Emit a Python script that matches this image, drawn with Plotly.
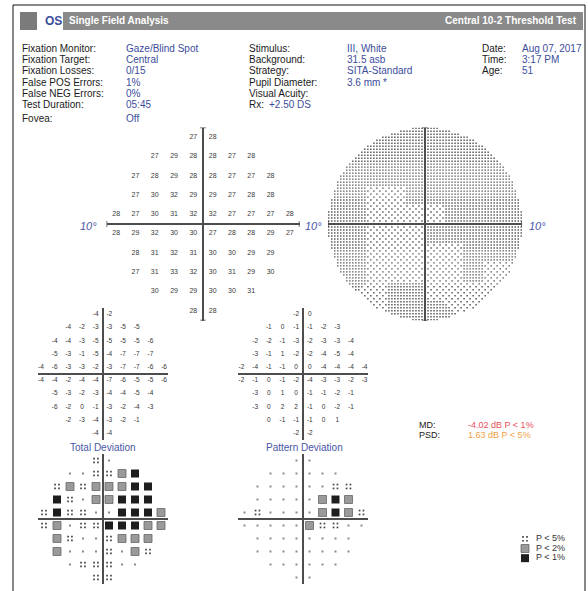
import numpy as np
import plotly.graph_objects as go

W, H = 588, 591
FONT = "Liberation Sans, Arial, sans-serif"
BLUE = "#3c4c9c"
TITLE_BLUE = "#4a55a8"

# ---------------- data ----------------
# 10-2 test pattern: rows (degrees) and half-width of each row
row_y = [9, 7, 5, 3, 1, -1, -3, -5, -7, -9]
row_half = [1, 5, 7, 7, 9, 9, 7, 7, 5, 1]

threshold_rows = [
    [27, 28],
    [27, 29, 28, 28, 27, 28],
    [27, 28, 29, 28, 28, 27, 27, 28],
    [27, 30, 32, 29, 29, 27, 28, 28],
    [28, 27, 30, 31, 32, 32, 27, 27, 27, 28],
    [28, 29, 32, 30, 30, 27, 28, 28, 29, 27],
    [28, 31, 32, 31, 30, 30, 29, 29],
    [27, 31, 33, 32, 30, 31, 29, 30],
    [30, 29, 29, 30, 30, 31],
    [28, 28],
]
total_dev_rows = [
    [-4, -2],
    [-4, -2, -3, -3, -5, -5],
    [-4, -4, -3, -5, -5, -5, -5, -6],
    [-5, -3, -1, -5, -4, -7, -7, -7],
    [-4, -6, -3, -3, -2, -3, -7, -7, -6, -6],
    [-4, -4, -2, -4, -4, -7, -6, -5, -5, -6],
    [-5, -3, -2, -3, -4, -4, -5, -4],
    [-6, -2, 0, -1, -3, -2, -4, -3],
    [-2, -3, -4, -3, -2, -1],
    [-4, -4],
]
pattern_dev_rows = [
    [-2, 0],
    [-1, 0, -1, -1, -2, -3],
    [-2, -2, -1, -3, -2, -3, -3, -4],
    [-3, -1, 1, -2, -2, -4, -5, -4],
    [-2, -4, -1, -1, 0, 0, -4, -4, -4, -4],
    [-2, -1, 0, -1, -2, -4, -3, -3, -2, -3],
    [-3, 0, 1, 0, -1, -1, -2, -1],
    [-3, 0, 2, 2, -1, 0, -2, -1],
    [0, -1, -1, -1, 0, 1],
    [-2, -2],
]
# probability codes: n = normal, 5 = P<5%, 2 = P<2%, 1 = P<1%
total_prob_rows = [
    ["5", "n"],
    ["n", "n", "5", "5", "2", "1"],
    ["5", "2", "5", "2", "2", "2", "1", "1"],
    ["1", "5", "n", "2", "2", "1", "1", "1"],
    ["5", "1", "5", "5", "n", "n", "1", "1", "1", "2"],
    ["5", "2", "n", "5", "5", "1", "1", "1", "2", "2"],
    ["2", "5", "n", "n", "5", "2", "2", "2"],
    ["2", "n", "n", "n", "5", "n", "2", "5"],
    ["n", "5", "5", "5", "n", "n"],
    ["5", "5"],
]
pattern_prob_rows = [
    ["n", "n"],
    ["n", "n", "n", "n", "n", "n"],
    ["n", "n", "n", "n", "n", "n", "5", "5"],
    ["n", "n", "n", "n", "n", "2", "1", "2"],
    ["n", "5", "n", "n", "n", "n", "2", "1", "2", "5"],
    ["n", "n", "n", "n", "n", "2", "5", "5", "n", "n"],
    ["n", "n", "n", "n", "n", "n", "n", "n"],
    ["n", "n", "n", "n", "n", "n", "n", "n"],
    ["n", "n", "n", "n", "n", "n"],
    ["n", "n"],
]

info_labels_1 = ["Fixation Monitor:", "Fixation Target:", "Fixation Losses:", "False POS Errors:",
                 "False NEG Errors:", "Test Duration:", "Fovea:"]
info_values_1 = ["Gaze/Blind Spot", "Central", "0/15", "1%", "0%", "05:45", "Off"]
info_labels_2 = ["Stimulus:", "Background:", "Strategy:", "Pupil Diameter:", "Visual Acuity:", "Rx:"]
info_values_2 = ["III, White", "31.5 asb", "SITA-Standard", "3.6 mm *", "", ""]
rx_value = "+2.50 DS"
info_labels_3 = ["Date:", "Time:", "Age:"]
info_values_3 = ["Aug 07, 2017", "3:17 PM", "51"]

global_labels = ["MD:", "PSD:"]
global_values = ["-4.02 dB P < 1%", "1.63 dB P < 5%"]
global_colors = ["#e8505b", "#f0a045"]

legend_codes = ["5", "2", "1"]
legend_labels = ["P < 5%", "P < 2%", "P < 1%"]

# ---------------- helpers ----------------
def flatten(rows):
    xs, ys, vs = [], [], []
    for yv, hw, r in zip(row_y, row_half, rows):
        for k, v in enumerate(r):
            xs.append(-hw + 2 * k)
            ys.append(yv)
            vs.append(v)
    return xs, ys, vs

def px_x(x):
    return x / W

def px_y(y):
    return 1 - y / H

def dom_x(c, half):
    return [(c - half) / W, (c + half) / W]

def dom_y(c, half):
    return [1 - (c + half) / H, 1 - (c - half) / H]

def axis(dom, rng, zl=True):
    return dict(domain=dom, range=rng, showgrid=False, showticklabels=False, ticks="",
                zeroline=zl, zerolinecolor="#4d4d4d", zerolinewidth=1.5, showline=False,
                fixedrange=True)

fig = go.Figure()

# ---------------- threshold numbers ----------------
tx, ty, tv = flatten(threshold_rows)
fig.add_trace(go.Scatter(x=tx, y=ty, mode="text", text=[str(v) for v in tv],
                         textfont=dict(size=7, color="#3a3a3a", family=FONT),
                         xaxis="x", yaxis="y", hoverinfo="skip"))

# ---------------- greyscale (texture derived from thresholds) ----------------
tx_a, ty_a, tv_a = np.array(tx, float), np.array(ty, float), np.array(tv, float)
step = 0.31
idx = np.arange(-32, 33)
gi, gj = np.meshgrid(idx, idx)
gx, gy = gi * step, gj * step
inside = (gx ** 2 + gy ** 2) <= 10.0 ** 2
d = (gx[..., None] - tx_a) ** 2 + (gy[..., None] - ty_a) ** 2
val = tv_a[np.argmin(d, axis=-1)]
light = val >= 30
keep = inside & (~light | (((gi + gj) % 2) == 0))
fig.add_trace(go.Scatter(x=gx[keep], y=gy[keep], mode="markers",
                         marker=dict(symbol="square", size=1.4, color="#505050", line=dict(width=0)),
                         xaxis="x2", yaxis="y2", hoverinfo="skip"))

# ---------------- deviation numbers ----------------
for rows, ax in [(total_dev_rows, "3"), (pattern_dev_rows, "4")]:
    dx, dy, dv = flatten(rows)
    fig.add_trace(go.Scatter(x=dx, y=dy, mode="text", text=[str(v) for v in dv],
                             textfont=dict(size=6.5, color="#333", family=FONT),
                             xaxis="x" + ax, yaxis="y" + ax, hoverinfo="skip"))

# ---------------- probability symbols ----------------
def add_symbols(xs, ys, codes, ax, off):
    xs, ys, codes = np.array(xs, float), np.array(ys, float), np.array(codes)
    m = codes == "n"
    fig.add_trace(go.Scatter(x=xs[m], y=ys[m], mode="markers",
                             marker=dict(symbol="square", size=2, color="#8a8a8a", line=dict(width=0)),
                             xaxis="x" + ax, yaxis="y" + ax, hoverinfo="skip"))
    m = codes == "5"
    qx = np.concatenate([xs[m] + sx * off[0] for sx in (-1, 1) for _ in (0,)] * 2)
    qy = np.concatenate([ys[m] + sy * off[1] for _ in (0,) for sy in (-1,)] * 2 +
                        [ys[m] + sy * off[1] for _ in (0,) for sy in (1,)] * 2)
    qx = np.concatenate([xs[m] - off[0], xs[m] + off[0], xs[m] - off[0], xs[m] + off[0]])
    qy = np.concatenate([ys[m] - off[1], ys[m] - off[1], ys[m] + off[1], ys[m] + off[1]])
    fig.add_trace(go.Scatter(x=qx, y=qy, mode="markers",
                             marker=dict(symbol="square", size=1.7, color="#444", line=dict(width=0)),
                             xaxis="x" + ax, yaxis="y" + ax, hoverinfo="skip"))
    m = codes == "2"
    fig.add_trace(go.Scatter(x=xs[m], y=ys[m], mode="markers",
                             marker=dict(symbol="square", size=8, color="#9a9a9a",
                                         line=dict(width=0.8, color="#666")),
                             xaxis="x" + ax, yaxis="y" + ax, hoverinfo="skip"))
    m = codes == "1"
    fig.add_trace(go.Scatter(x=xs[m], y=ys[m], mode="markers",
                             marker=dict(symbol="square", size=8, color="#1e1e1e", line=dict(width=0)),
                             xaxis="x" + ax, yaxis="y" + ax, hoverinfo="skip"))

px_, py_, pc_ = flatten(total_prob_rows)
add_symbols(px_, py_, pc_, "5", (0.3, 0.3))
px_, py_, pc_ = flatten(pattern_prob_rows)
add_symbols(px_, py_, pc_, "6", (0.3, 0.3))

# legend for symbols
ly = list(range(len(legend_codes)))[::-1]
add_symbols([10] * len(legend_codes), ly, legend_codes, "7", (2.0, 0.2))
fig.add_trace(go.Scatter(x=[21] * len(legend_labels), y=ly, mode="text", text=legend_labels,
                         textposition="middle right",
                         textfont=dict(size=9, color="#333", family=FONT),
                         xaxis="x7", yaxis="y7", hoverinfo="skip"))

# ---------------- layout / axes ----------------
layout = dict(
    width=W, height=H, margin=dict(l=0, r=0, t=0, b=0),
    paper_bgcolor="white", plot_bgcolor="rgba(0,0,0,0)", showlegend=False,
    font=dict(family=FONT),
    xaxis=axis(dom_x(203, 96.5), [-10, 10]), yaxis=axis(dom_y(224, 96.5), [-10, 10]),
    xaxis2=axis(dom_x(425, 97), [-10, 10]), yaxis2=axis(dom_y(224, 96.5), [-10, 10]),
    xaxis3=axis(dom_x(102.5, 65), [-9.5, 9.5]), yaxis3=axis(dom_y(374, 66), [-10, 10]),
    xaxis4=axis(dom_x(303, 65), [-9.5, 9.5]), yaxis4=axis(dom_y(374, 66), [-10, 10]),
    xaxis5=axis(dom_x(102.5, 65), [-10, 10]), yaxis5=axis(dom_y(519, 65), [-10, 10]),
    xaxis6=axis(dom_x(303, 65), [-10, 10]), yaxis6=axis(dom_y(519, 65), [-10, 10]),
    xaxis7=axis(dom_x(550, 35), [0, 70], zl=False), yaxis7=axis(dom_y(548.5, 14.5), [-0.5, 2.5], zl=False),
)
for i in range(2, 8):
    layout[f"xaxis{i}"]["anchor"] = f"y{i}"
    layout[f"yaxis{i}"]["anchor"] = f"x{i}"
fig.update_layout(**layout)

# ---------------- frame, header, axis end ticks ----------------
shapes = [
    dict(type="rect", xref="paper", yref="paper", x0=px_x(13), x1=px_x(585), y0=px_y(600), y1=px_y(5),
         line=dict(color="#111", width=1), fillcolor="rgba(0,0,0,0)"),
    dict(type="rect", xref="paper", yref="paper", x0=px_x(20), x1=px_x(37), y0=px_y(30), y1=px_y(12),
         line=dict(width=0), fillcolor="#7b7b7b"),
    dict(type="rect", xref="paper", yref="paper", x0=px_x(63), x1=px_x(583), y0=px_y(30), y1=px_y(12),
         line=dict(width=0), fillcolor="#8a8a8a"),
]
for ax in ["", "2"]:
    for s in (-10, 10):
        shapes.append(dict(type="line", xref="x" + ax, yref="y" + ax, x0=s, x1=s, y0=-0.3, y1=0.3,
                           line=dict(color="#4d4d4d", width=1.5)))
        shapes.append(dict(type="line", xref="x" + ax, yref="y" + ax, x0=-0.3, x1=0.3, y0=s, y1=s,
                           line=dict(color="#4d4d4d", width=1.5)))
fig.update_layout(shapes=shapes)

ann = []
def text(x, y, s, size=10, color="#1a1a1a", anchor="left", bold=False, italic=False):
    if bold:
        s = "<b>" + s + "</b>"
    if italic:
        s = "<i>" + s + "</i>"
    ann.append(dict(x=px_x(x), y=px_y(y), xref="paper", yref="paper", text=s, showarrow=False,
                    xanchor=anchor, yanchor="middle", font=dict(size=size, color=color, family=FONT)))

text(43, 21, "OS", size=12, color=BLUE, bold=True)
text(67, 21, "Single Field Analysis", size=10, color="white", bold=True)
text(579, 21, "Central 10-2 Threshold Test", size=10, color="white", bold=True, anchor="right")

row_px = [48, 59.5, 71, 82, 93.5, 105]
for i, (l, v) in enumerate(zip(info_labels_1, info_values_1)):
    yy = row_px[i] if i < 6 else 118
    text(20, yy, l)
    text(124, yy, v, color=BLUE)
for i, (l, v) in enumerate(zip(info_labels_2, info_values_2)):
    text(247, row_px[i], l)
    if v:
        text(345, row_px[i], v, color=BLUE)
text(267, row_px[5], rx_value, color=BLUE)
for i, (l, v) in enumerate(zip(info_labels_3, info_values_3)):
    text(480, row_px[i], l)
    text(520, row_px[i], v, color=BLUE)

# 10 degree labels
text(88, 226, "10°", size=11, color=TITLE_BLUE, anchor="center", italic=True)
text(313, 226, "10°", size=11, color=TITLE_BLUE, anchor="center", italic=True)
text(537, 226, "10°", size=11, color=TITLE_BLUE, anchor="center", italic=True)

# panel titles
text(102.5, 447, "Total Deviation", size=10, color=TITLE_BLUE, anchor="center")
text(304, 447, "Pattern Deviation", size=10, color=TITLE_BLUE, anchor="center")

# global indices
for i, (l, v, c) in enumerate(zip(global_labels, global_values, global_colors)):
    text(417, 424.5 + 10 * i, l, size=9)
    text(466, 424.5 + 10 * i, v, size=9, color=c)

fig.update_layout(annotations=ann)
fig.write_html("out.html", config={"displayModeBar": False},
               post_script="document.body.style.margin='0px';")
